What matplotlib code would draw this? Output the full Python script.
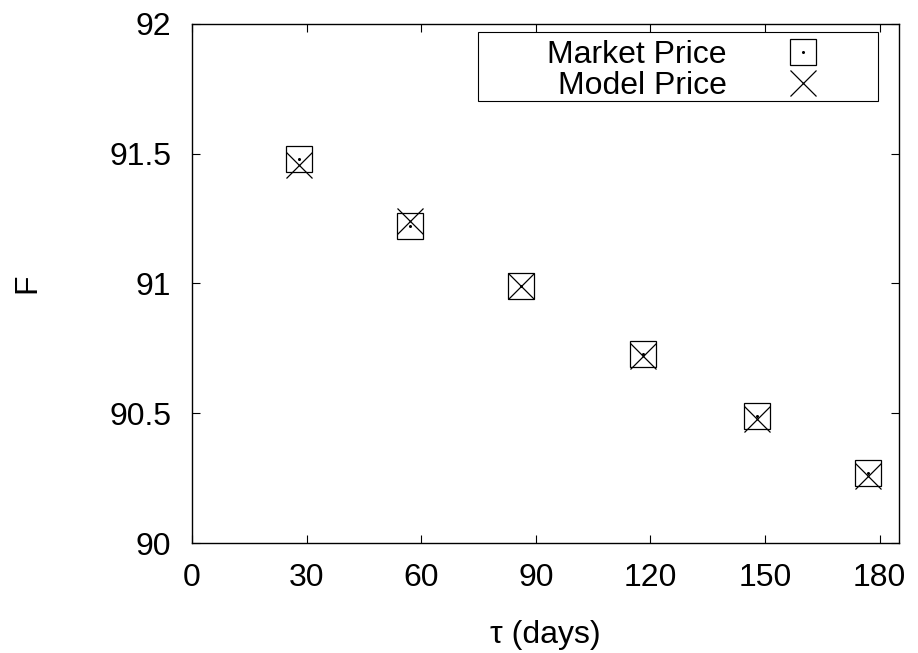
import numpy as np
import matplotlib
matplotlib.use("Agg")
import matplotlib.pyplot as plt
from matplotlib.patches import Rectangle
from matplotlib.legend_handler import HandlerTuple
from matplotlib.ticker import FormatStrFormatter, MultipleLocator

plt.rcParams.update({
    "font.family": ["Liberation Sans", "DejaVu Sans"],
    "font.size": 23,
})

# maturity in days and futures prices
tau          = [28, 57, 86, 118, 148, 177]
market_price = [91.48, 91.22, 90.99, 90.73, 90.49, 90.27]
model_price  = [91.455, 91.24, 90.99, 90.72, 90.48, 90.26]

fig = plt.figure(figsize=(9.18, 6.53), dpi=100)
ax  = fig.add_axes([0.2092, 0.1680, 0.9790 - 0.2092, 0.9637 - 0.1680])

ms = 18.5
sq,  = ax.plot(tau, market_price, lw=0, marker='s', markersize=ms, markerfacecolor='none',
               markeredgecolor='black', markeredgewidth=0.9)
dot, = ax.plot(tau, market_price, lw=0, marker='o', markersize=1.2, color='black')
cr,  = ax.plot(tau, model_price, lw=0, marker='x', markersize=ms, color='black', markeredgewidth=0.9)

ax.set_xlim(0, 185)
ax.set_ylim(90, 92)
ax.xaxis.set_major_locator(MultipleLocator(30))
ax.yaxis.set_major_locator(MultipleLocator(0.5))
ax.yaxis.set_major_formatter(FormatStrFormatter('%g'))
ax.tick_params(axis='both', direction='in', length=5.8, width=0.8, top=True, right=True)
ax.tick_params(axis='y', pad=15)
ax.tick_params(axis='x', pad=14.5)
for s in ax.spines.values():
    s.set_linewidth(1.0)

ax.set_xlabel("τ (days)", labelpad=19)
ax.set_ylabel("F", labelpad=48)

leg = ax.legend([(sq, dot), cr], ["Market Price", "Model Price"],
                handler_map={tuple: HandlerTuple(ndivide=1)},
                loc='upper right', bbox_to_anchor=(0.9707, 0.984), borderaxespad=0,
                markerfirst=False, frameon=False, borderpad=0.25, handlelength=4.2,
                handletextpad=0.29, labelspacing=0.04, numpoints=1)
ax.add_patch(Rectangle((0.4047, 0.8513), 0.9707 - 0.4047, 0.984 - 0.8513, transform=ax.transAxes,
                       fill=False, lw=0.8, edgecolor='black', zorder=5))

fig.savefig("out.png", dpi=100)
plt.close(fig)
